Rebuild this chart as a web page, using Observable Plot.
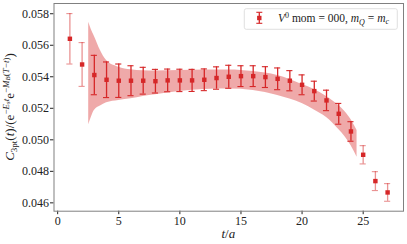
<!DOCTYPE html>
<html><head><meta charset="utf-8">
<script src="https://cdn.jsdelivr.net/npm/d3@7"></script>
<script src="https://cdn.jsdelivr.net/npm/@observablehq/plot@0.6"></script>
<style>body{margin:0;background:#fff} svg{display:block}</style>
</head><body><div id="chart"></div>
<script>
const tVals = [1,2,3,4,5,6,7,8,9,10,11,12,13,14,15,16,17,18,19,20,21,22,23,24,25,26,27];
const ratio = [0.05641,0.05478,0.05411,0.05381,0.05375,0.05375,0.05375,0.05372,0.05377,0.05377,0.05377,0.05381,0.05392,0.05400,0.05404,0.05404,0.05398,0.05387,0.05375,0.05349,0.05309,0.05250,0.05165,0.05053,0.04905,0.04738,0.04666];
const ratioErr = [0.0016,0.00139,0.00125,0.00113,0.00106,0.00095,0.00085,0.00075,0.00072,0.00071,0.0007,0.00069,0.00071,0.00073,0.00066,0.00066,0.00066,0.00069,0.00064,0.00063,0.00063,0.00065,0.00066,0.00062,0.00058,0.0006,0.00056];
const bandT = [2.54,2.75,3,3.5,4,5,6,7,8,10,12,14,16,17,18,19,20,21,22,23,23.5,24,24.5];
const bandHi = [0.057467,0.057003,0.056578,0.05567,0.055035,0.05461,0.054444,0.054381,0.054368,0.0544,0.054432,0.054432,0.054337,0.054241,0.054083,0.053829,0.053511,0.053194,0.052749,0.052178,0.051797,0.051289,0.05059];
const bandLo = [0.050952,0.051416,0.05186,0.052146,0.052349,0.052495,0.052603,0.052749,0.052857,0.053067,0.053194,0.053225,0.05313,0.053003,0.052813,0.05259,0.052305,0.051892,0.051416,0.050654,0.05021,0.049638,0.048895];
const xTicks = [0,5,10,15,20,25];
const yTicks = [0.046,0.048,0.050,0.052,0.054,0.056,0.058];

const red = "#d62728";
const serif = "Liberation Serif, DejaVu Serif, serif";
const fitStart = bandT[0], fitEnd = bandT[bandT.length-1];
const pts = tVals.map((t,i)=>({t, y: ratio[i], e: ratioErr[i], op: (t>=fitStart && t<=fitEnd) ? 1 : 0.5}));
const band = bandT.map((t,i)=>({t, lo: bandLo[i], hi: bandHi[i]}));
const capHalf = 0.25;

const plot = Plot.plot({
  width: 407, height: 244,
  marginLeft: 53.5, marginRight: 4, marginTop: 3, marginBottom: 33.3,
  style: {color: "#222", background: "#fff", overflow: "visible"},
  x: {domain: [-0.3, 28.3], ticks: xTicks, tickSize: 3.5, tickPadding: 2, label: null, tickFormat: d => String(d)},
  y: {domain: [0.04547, 0.05865], ticks: yTicks, tickSize: 3.5, tickPadding: 1.5, label: null, tickFormat: d3.format(".3f")},
  marks: [
    Plot.areaY(band, {x: "t", y1: "lo", y2: "hi", fill: red, fillOpacity: 0.4, curve: "monotone-x"}),
    Plot.ruleX(pts, {x: "t", y1: d => d.y - d.e, y2: d => d.y + d.e, stroke: red, strokeWidth: 1.3, strokeOpacity: "op"}),
    Plot.ruleY(pts, {y: d => d.y - d.e, x1: d => d.t - capHalf, x2: d => d.t + capHalf, stroke: red, strokeWidth: 1.1, strokeOpacity: "op"}),
    Plot.ruleY(pts, {y: d => d.y + d.e, x1: d => d.t - capHalf, x2: d => d.t + capHalf, stroke: red, strokeWidth: 1.1, strokeOpacity: "op"}),
    Plot.dot(pts, {x: "t", y: "y", symbol: "square", r: 2.5, fill: red, stroke: "none"}),
    Plot.frame({stroke: "#808080", strokeWidth: 1})
  ]
});
document.getElementById("chart").appendChild(plot);

const svg = d3.select(plot);
svg.attr("font-family", serif).style("font-family", serif).attr("font-size", 12);
svg.selectAll("text").attr("font-family", serif).style("font-family", serif).attr("font-size", 12);

function richText(g, segs, base, anchor) {
  const text = g.append("text").attr("font-family", serif).style("font-family", serif)
    .attr("fill", "#222").attr("text-anchor", anchor).style("text-anchor", anchor);
  let prev = 0;
  for (const s of segs) {
    const sh = s.shift || 0;
    text.append("tspan")
      .attr("dy", sh - prev)
      .attr("font-size", s.size || base)
      .attr("font-style", s.it ? "italic" : "normal")
      .text(s.t);
    prev = sh;
  }
  return text;
}

// y label
const yl = svg.append("g").attr("transform", "translate(13.5,107) rotate(-90)");
richText(yl, [
  {t: "C", it: true},
  {t: "3pt", size: 9, shift: 3},
  {t: "(", shift: 0},
  {t: "t", it: true},
  {t: ")/(e"},
  {t: "−", size: 9, shift: -5},
  {t: "E", it: true, size: 9, shift: -5},
  {t: "s", it: true, size: 7, shift: -3.5},
  {t: "t", it: true, size: 9, shift: -5},
  {t: "e", shift: 0},
  {t: "−", size: 9, shift: -5},
  {t: "M", it: true, size: 9, shift: -5},
  {t: "B", it: true, size: 7, shift: -3.5},
  {t: "(", size: 9, shift: -5},
  {t: "T", it: true, size: 9, shift: -5},
  {t: "−", size: 9, shift: -5},
  {t: "t", it: true, size: 9, shift: -5},
  {t: ")", size: 9, shift: -5},
  {t: ")", shift: 0}
], 13, "middle");

// x label
const xl = svg.append("g").attr("transform", "translate(228.3,237.5)");
richText(xl, [{t: "t", it: true}, {t: "/"}, {t: "a", it: true}], 13, "middle");

// legend
const lg = svg.append("g");
lg.append("rect").attr("x", 244.3).attr("y", 8.7).attr("width", 153).attr("height", 20.6)
  .attr("rx", 2).attr("fill", "#fff").attr("fill-opacity", 0.8).attr("stroke", "#d8d8d8").attr("stroke-width", 0.8);
lg.append("line").attr("x1", 259.3).attr("x2", 259.3).attr("y1", 12.3).attr("y2", 23.3).attr("stroke", red).attr("stroke-width", 1.3);
lg.append("line").attr("x1", 256.3).attr("x2", 262.3).attr("y1", 12.3).attr("y2", 12.3).attr("stroke", red).attr("stroke-width", 1.1);
lg.append("line").attr("x1", 256.3).attr("x2", 262.3).attr("y1", 23.3).attr("y2", 23.3).attr("stroke", red).attr("stroke-width", 1.1);
lg.append("rect").attr("x", 257.1).attr("y", 15.8).attr("width", 4.4).attr("height", 4.4).attr("fill", red);
const lt = lg.append("g").attr("transform", "translate(278,22)");
richText(lt, [
  {t: "V", it: true},
  {t: "0", size: 8, shift: -4.5},
  {t: " mom = 000, ", shift: 0},
  {t: "m", it: true},
  {t: "Q", it: true, size: 8, shift: 2.5},
  {t: " = ", shift: 0},
  {t: "m", it: true},
  {t: "c", it: true, size: 8, shift: 2}
], 11.5, "start");
</script>
</body></html>
